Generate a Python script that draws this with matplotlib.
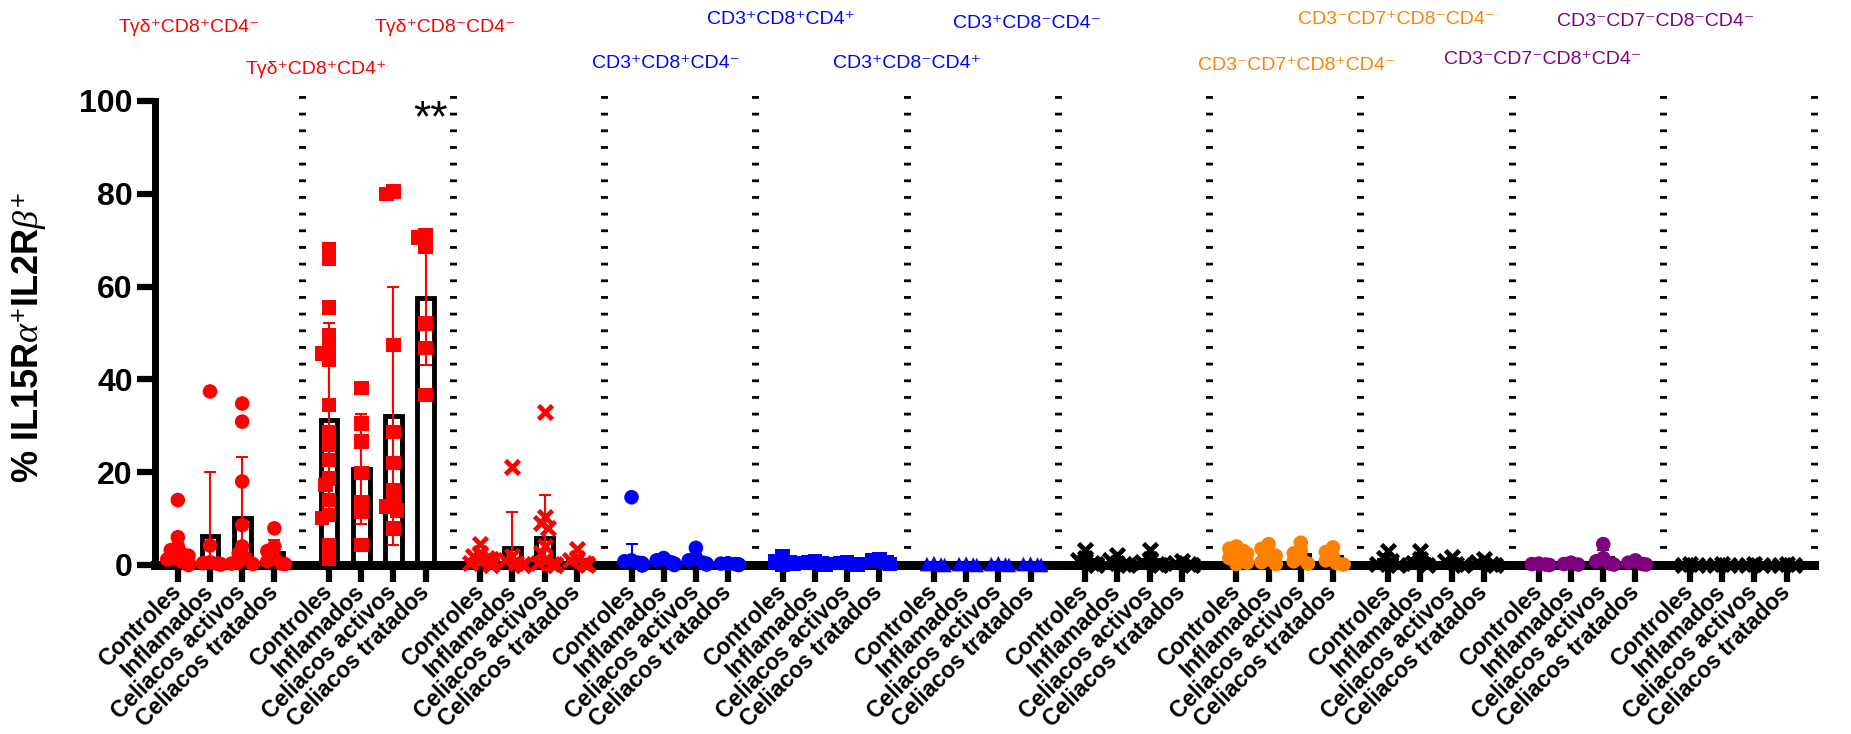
import numpy as np
import matplotlib.pyplot as plt

plt.rcParams["font.family"] = ["Liberation Sans", "DejaVu Sans"]
plt.rcParams["mathtext.fontset"] = "custom"
plt.rcParams["mathtext.rm"] = "Liberation Sans"
plt.rcParams["mathtext.it"] = "Liberation Serif:italic"
plt.rcParams["mathtext.bf"] = "Liberation Sans:bold"

conditions = ["Controles", "Inflamados", "Celiacos activos", "Celiacos tratados"]

populations = [
    "Tγδ⁺CD8⁺CD4⁻",
    "Tγδ⁺CD8⁺CD4⁺",
    "Tγδ⁺CD8⁻CD4⁻",
    "CD3⁺CD8⁺CD4⁻",
    "CD3⁺CD8⁺CD4⁺",
    "CD3⁺CD8⁻CD4⁺",
    "CD3⁺CD8⁻CD4⁻",
    "CD3⁻CD7⁺CD8⁺CD4⁻",
    "CD3⁻CD7⁺CD8⁻CD4⁻",
    "CD3⁻CD7⁻CD8⁺CD4⁻",
    "CD3⁻CD7⁻CD8⁻CD4⁻",
]
label_colors = ["red", "red", "red", "blue", "blue", "blue", "blue",
                "#ff8000", "#ff8000", "purple", "purple"]
point_colors = ["red", "red", "red", "blue", "blue", "blue", "black",
                "#ff8000", "black", "purple", "black"]
markers = ["o", "s", "x", "o", "s", "^", "x", "o", "x", "o", "x"]

# % IL15Ra+IL2Rb+ per patient, one list per condition
tgd_cd8p_cd4n = [
    [14.0, 6.0, 4.0, 3.2, 2.5, 2.0, 1.5, 1.2, 0.8, 0.5, 0.3, 0.2, 0.1, 0.0],
    [37.4, 4.2, 0.6, 0.4, 0.3, 0.2, 0.1],
    [34.8, 30.9, 18.0, 8.6, 4.0, 2.5, 1.5, 0.7, 0.3, 0.2],
    [7.9, 4.0, 3.0, 1.5, 0.8, 0.3, 0.2],
]
tgd_cd8p_cd4p = [
    [68.0, 66.1, 55.5, 49.6, 46.8, 45.6, 44.2, 34.5, 28.7, 25.9, 22.6,
     18.7, 17.2, 14.0, 10.8, 10.1, 4.3, 1.4],
    [38.1, 30.5, 26.6, 19.8, 13.6, 11.5, 4.3],
    [80.5, 80.0, 47.4, 28.7, 22.0, 16.2, 13.3, 12.6, 11.8, 7.9],
    [71.1, 70.6, 68.6, 52.1, 46.8, 36.6],
]
tgd_cd8n_cd4n = [
    [4.5, 2.5, 2.0, 1.5, 1.2, 1.0, 0.8, 0.5, 0.3, 0.2, 0.1, 0.0],
    [21.2, 2.0, 1.0, 0.5, 0.3, 0.1, 0.0],
    [33.0, 10.4, 9.0, 8.0, 4.0, 2.5, 1.1, 0.5, 0.3, 0.2, 0.1, 0.0],
    [3.5, 1.5, 1.0, 0.5, 0.3, 0.2, 0.1],
]
cd3p_cd8p_cd4n = [
    [14.6, 1.0, 0.8, 0.5, 0.4, 0.3, 0.2, 0.2, 0.1, 0.1, 0.1,
     0.0, 0.0, 0.0, 0.0, 0.0, 0.0, 0.0],
    [1.5, 1.0, 0.6, 0.3, 0.2, 0.1, 0.0],
    [3.7, 1.5, 1.0, 0.5, 0.3, 0.2, 0.1],
    [0.4, 0.3, 0.2, 0.1, 0.1, 0.0],
]
cd3p_cd8p_cd4p = [
    [1.8, 0.8, 0.5, 0.3, 0.1],
    [0.9, 0.5, 0.3, 0.1],
    [0.6, 0.4, 0.2, 0.1],
    [1.3, 1.0, 0.5, 0.2],
]
cd3p_cd8n_cd4p = [
    [0.4, 0.2, 0.1, 0.0],
    [0.3, 0.2, 0.1, 0.0],
    [0.4, 0.2, 0.1, 0.0],
    [0.3, 0.2, 0.1, 0.0],
]
cd3p_cd8n_cd4n = [
    [3.2, 1.5, 1.0, 0.5, 0.2, 0.0],
    [2.1, 1.0, 0.5, 0.2, 0.0],
    [3.2, 1.2, 0.6, 0.2, 0.0],
    [0.8, 0.5, 0.3, 0.1],
]
cd3n_cd7p_cd8p_cd4n = [
    [4.0, 3.5, 3.0, 2.5, 2.0, 1.5, 1.0, 0.5, 0.2],
    [4.5, 3.5, 2.8, 2.0, 1.2, 0.6, 0.2],
    [4.8, 3.2, 2.5, 1.5, 0.8, 0.3],
    [3.8, 2.8, 1.8, 1.0, 0.4, 0.1],
]
cd3n_cd7p_cd8n_cd4n = [
    [3.0, 1.5, 0.8, 0.3, 0.1],
    [3.0, 1.2, 0.5, 0.1],
    [1.8, 0.8, 0.3, 0.1],
    [1.2, 0.6, 0.2, 0.0],
]
cd3n_cd7n_cd8p_cd4n = [
    [0.3, 0.2, 0.1, 0.0],
    [0.5, 0.2, 0.1],
    [4.5, 1.5, 0.8, 0.3, 0.1],
    [1.0, 0.5, 0.2, 0.1],
]
cd3n_cd7n_cd8n_cd4n = [
    [0.2, 0.1, 0.0],
    [0.2, 0.1, 0.0],
    [0.2, 0.1, 0.0],
    [0.2, 0.1, 0.0],
]

all_data = [tgd_cd8p_cd4n, tgd_cd8p_cd4p, tgd_cd8n_cd4n, cd3p_cd8p_cd4n,
            cd3p_cd8p_cd4p, cd3p_cd8n_cd4p, cd3p_cd8n_cd4n,
            cd3n_cd7p_cd8p_cd4n, cd3n_cd7p_cd8n_cd4n, cd3n_cd7n_cd8p_cd4n,
            cd3n_cd7n_cd8n_cd4n]

# where the population names sit (figure pixels from top-left)
title_xy = [(189, 27), (316, 70), (445, 27), (666, 63), (781, 20), (907, 63),
            (1027, 23), (1297, 65), (1397, 20), (1543, 60), (1656, 22)]

GROUP_STEP = 4.7
W, H = 1851, 734


def spread(vals, xc, xpx=32.2, ypx=4.64, diam=7.0, step=0.11):
    # simple column scatter so overlapping points fan out sideways
    vals = np.asarray(vals, dtype=float)
    xs = np.zeros(len(vals))
    placed = []
    offs = [0, -step, step, -2 * step, 2 * step, -3 * step, 3 * step]
    for k in np.argsort(vals)[::-1]:
        v = vals[k]
        best = offs[-1]
        for off in offs:
            if all(np.hypot((off - po) * xpx, (v - pv) * ypx) >= diam
                   for po, pv in placed):
                best = off
                break
        placed.append((best, v))
        xs[k] = xc + best
    return xs


fig = plt.figure(figsize=(W / 100, H / 100), dpi=100)
ax = fig.add_axes([155 / W, 169 / H, (1814 - 155) / W, 464 / H])

tick_pos = []
for g, groups in enumerate(all_data):
    col = point_colors[g]
    for i, vals in enumerate(groups):
        x = g * GROUP_STEP + i
        tick_pos.append(x)
        m = np.mean(vals)
        sd = np.std(vals, ddof=1)
        ax.bar(x, m, width=0.52, facecolor="white", edgecolor="black",
               linewidth=3.5, zorder=2)
        ax.errorbar(x, m, yerr=sd, fmt="none", ecolor=col, elinewidth=1.5,
                    capsize=4.5, capthick=1.5, zorder=3)
        xs = spread(vals, x)
        if markers[g] == "x":
            ax.scatter(xs, vals, marker="x", s=100, linewidths=3.4, color=col,
                       zorder=4, clip_on=False)
        else:
            ax.scatter(xs, vals, marker=markers[g], s=110, color=col,
                       edgecolors="none", zorder=4, clip_on=False)
    sep = g * GROUP_STEP + 3.85
    ax.plot([sep, sep], [0, 103.5], color="black", linewidth=5,
            linestyle=(0, (0.4, 2.0)), clip_on=False, zorder=1)

ax.text(7.85, 96, "**", ha="center", va="center", fontsize=32)

for g, (px, py) in enumerate(title_xy):
    fig.text(px / W, 1 - py / H, populations[g], color=label_colors[g],
             ha="center", va="center", fontsize=14)

fig.text(30 / W, 1 - 338 / H, r"% IL15R$\alpha^{+}$IL2R$\beta^{+}$",
         rotation=90, ha="center", va="center", fontsize=26,
         fontweight="bold")

ax.set_xlim(-0.71, 10 * GROUP_STEP + 3.85)
ax.set_ylim(0, 100)
ax.set_yticks([0, 20, 40, 60, 80, 100])
ax.set_xticks(tick_pos)
ax.set_xticklabels(conditions * len(all_data), rotation=45, ha="right",
                   va="center", rotation_mode="anchor")
for lab in ax.get_xticklabels():
    lab.set_fontweight("bold")
    lab.set_fontsize(16.5)
for lab in ax.get_yticklabels():
    lab.set_fontweight("bold")
    lab.set_fontsize(23)

ax.spines["top"].set_visible(False)
ax.spines["right"].set_visible(False)
ax.spines["left"].set_linewidth(5)
ax.spines["bottom"].set_linewidth(6.5)
ax.tick_params(axis="y", length=13, width=4.5, pad=3)
ax.tick_params(axis="x", length=12, width=4.5, pad=5)

fig.savefig("out.png", dpi=100)
